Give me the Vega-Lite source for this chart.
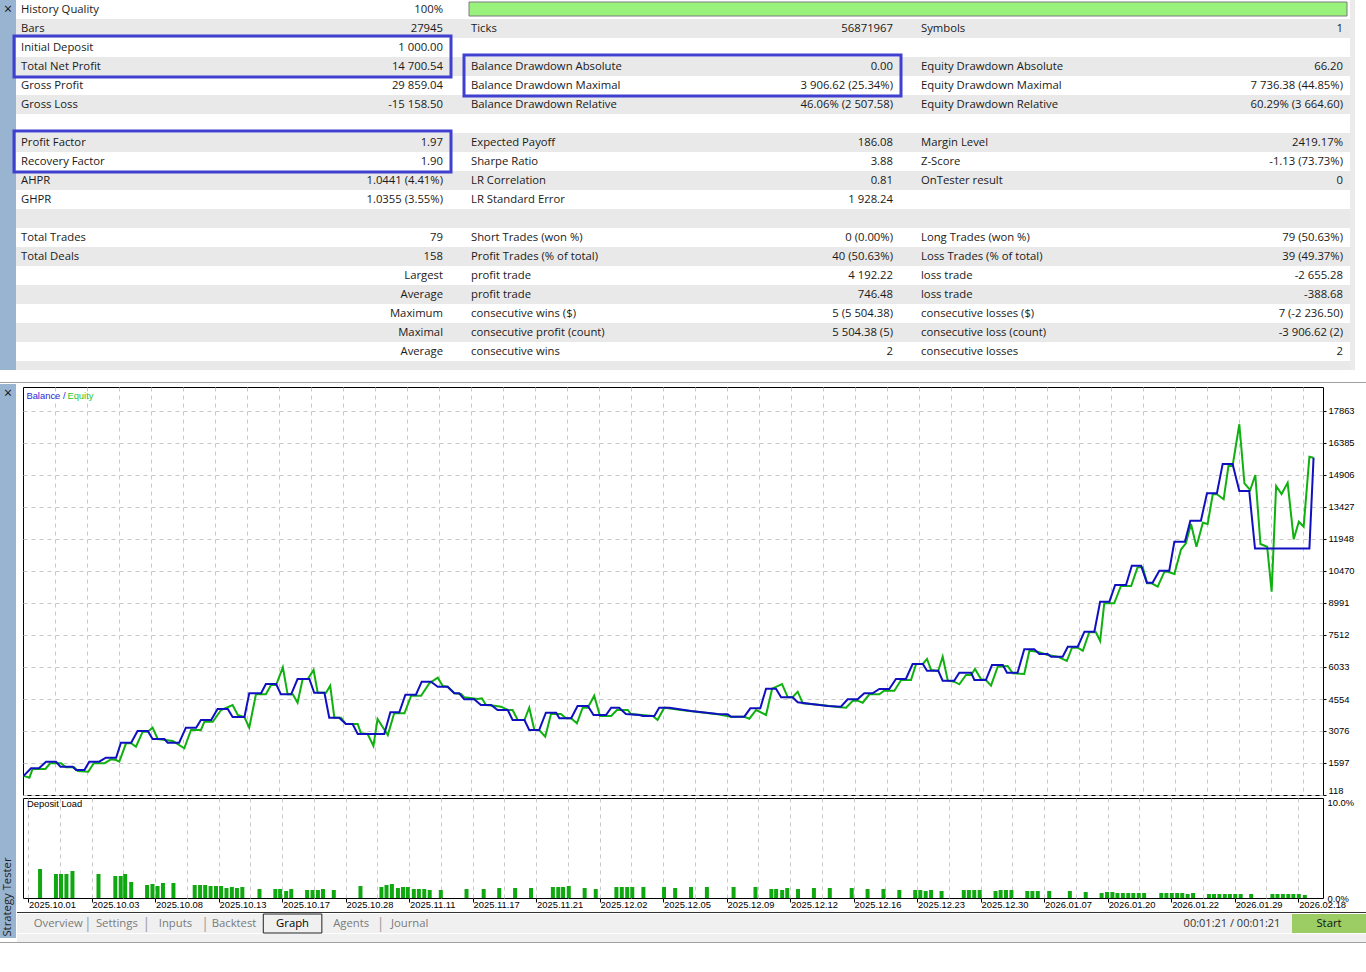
{
  "$schema": "https://vega.github.io/schema/vega-lite/v6.json",
  "padding": 0,
  "background": "#ffffff",
  "spacing": 0,
  "resolve": {"scale": {"color": "independent"}, "legend": {"color": "independent"}},
  "config": {
    "view": {"stroke": null},
    "text": {"font": "Open Sans", "fontSize": 11.3, "color": "#1a1a1a"},
    "axis": {"labelFont": "Liberation Sans", "labelFontSize": 9.4, "labelColor": "#000000"}
  },
  "datasets": {
    "stats": [
      {"row": 0, "c": 0, "k": "History Quality", "v": "100%"},
      {"row": 1, "c": 0, "k": "Bars", "v": "27945"},
      {"row": 1, "c": 1, "k": "Ticks", "v": "56871967"},
      {"row": 1, "c": 2, "k": "Symbols", "v": "1"},
      {"row": 2, "c": 0, "k": "Initial Deposit", "v": "1 000.00"},
      {"row": 3, "c": 0, "k": "Total Net Profit", "v": "14 700.54"},
      {"row": 3, "c": 1, "k": "Balance Drawdown Absolute", "v": "0.00"},
      {"row": 3, "c": 2, "k": "Equity Drawdown Absolute", "v": "66.20"},
      {"row": 4, "c": 0, "k": "Gross Profit", "v": "29 859.04"},
      {"row": 4, "c": 1, "k": "Balance Drawdown Maximal", "v": "3 906.62 (25.34%)"},
      {"row": 4, "c": 2, "k": "Equity Drawdown Maximal", "v": "7 736.38 (44.85%)"},
      {"row": 5, "c": 0, "k": "Gross Loss", "v": "-15 158.50"},
      {"row": 5, "c": 1, "k": "Balance Drawdown Relative", "v": "46.06% (2 507.58)"},
      {"row": 5, "c": 2, "k": "Equity Drawdown Relative", "v": "60.29% (3 664.60)"},
      {"row": 7, "c": 0, "k": "Profit Factor", "v": "1.97"},
      {"row": 7, "c": 1, "k": "Expected Payoff", "v": "186.08"},
      {"row": 7, "c": 2, "k": "Margin Level", "v": "2419.17%"},
      {"row": 8, "c": 0, "k": "Recovery Factor", "v": "1.90"},
      {"row": 8, "c": 1, "k": "Sharpe Ratio", "v": "3.88"},
      {"row": 8, "c": 2, "k": "Z-Score", "v": "-1.13 (73.73%)"},
      {"row": 9, "c": 0, "k": "AHPR", "v": "1.0441 (4.41%)"},
      {"row": 9, "c": 1, "k": "LR Correlation", "v": "0.81"},
      {"row": 9, "c": 2, "k": "OnTester result", "v": "0"},
      {"row": 10, "c": 0, "k": "GHPR", "v": "1.0355 (3.55%)"},
      {"row": 10, "c": 1, "k": "LR Standard Error", "v": "1 928.24"},
      {"row": 12, "c": 0, "k": "Total Trades", "v": "79"},
      {"row": 12, "c": 1, "k": "Short Trades (won %)", "v": "0 (0.00%)"},
      {"row": 12, "c": 2, "k": "Long Trades (won %)", "v": "79 (50.63%)"},
      {"row": 13, "c": 0, "k": "Total Deals", "v": "158"},
      {"row": 13, "c": 1, "k": "Profit Trades (% of total)", "v": "40 (50.63%)"},
      {"row": 13, "c": 2, "k": "Loss Trades (% of total)", "v": "39 (49.37%)"},
      {"row": 14, "c": 0, "k": "", "v": "Largest"},
      {"row": 14, "c": 1, "k": "profit trade", "v": "4 192.22"},
      {"row": 14, "c": 2, "k": "loss trade", "v": "-2 655.28"},
      {"row": 15, "c": 0, "k": "", "v": "Average"},
      {"row": 15, "c": 1, "k": "profit trade", "v": "746.48"},
      {"row": 15, "c": 2, "k": "loss trade", "v": "-388.68"},
      {"row": 16, "c": 0, "k": "", "v": "Maximum"},
      {"row": 16, "c": 1, "k": "consecutive wins ($)", "v": "5 (5 504.38)"},
      {"row": 16, "c": 2, "k": "consecutive losses ($)", "v": "7 (-2 236.50)"},
      {"row": 17, "c": 0, "k": "", "v": "Maximal"},
      {"row": 17, "c": 1, "k": "consecutive profit (count)", "v": "5 504.38 (5)"},
      {"row": 17, "c": 2, "k": "consecutive loss (count)", "v": "-3 906.62 (2)"},
      {"row": 18, "c": 0, "k": "", "v": "Average"},
      {"row": 18, "c": 1, "k": "consecutive wins", "v": "2"},
      {"row": 18, "c": 2, "k": "consecutive losses", "v": "2"}
    ],
    "stripes": [{"row": 1}, {"row": 3}, {"row": 5}, {"row": 7}, {"row": 9}, {"row": 11}, {"row": 13}, {"row": 15}, {"row": 17}, {"row": 19}],
    "quality": [{"c0": 1, "c1": 3, "r0": 0, "r1": 1, "pct": 100}],
    "highlights": [
      {"c0": 0, "c1": 1, "r0": 2, "r1": 4},
      {"c0": 0, "c1": 1, "r0": 7, "r1": 9},
      {"c0": 1, "c1": 2, "r0": 3, "r1": 5}
    ],
    "balance": [
      {"t":0.02,"v":1000},{"t":0.25,"v":1352},{"t":0.5,"v":1352},{"t":0.72,"v":1657},{"t":1.03,"v":1657},{"t":1.17,"v":1426},{"t":1.55,"v":1426},{"t":1.66,"v":1273},{"t":1.92,"v":1273},{"t":2.07,"v":1657},{"t":2.38,"v":1657},{"t":2.59,"v":1842},{"t":2.91,"v":1842},{"t":3.06,"v":2535},{"t":3.38,"v":2535},{"t":3.58,"v":3076},{"t":3.9,"v":3076},{"t":4.05,"v":2706},{"t":4.42,"v":2706},{"t":4.52,"v":2535},{"t":4.88,"v":2535},{"t":5.09,"v":3228},{"t":5.41,"v":3228},{"t":5.56,"v":3584},{"t":5.88,"v":3584},{"t":6.08,"v":4092},{"t":6.4,"v":4092},{"t":6.55,"v":3722},{"t":6.92,"v":3722},{"t":7.07,"v":4818},{"t":7.44,"v":4818},{"t":7.59,"v":5247},{"t":7.91,"v":5247},{"t":8.06,"v":4771},{"t":8.38,"v":4771},{"t":8.58,"v":5478},{"t":8.95,"v":5478},{"t":9.1,"v":4845},{"t":9.42,"v":4845},{"t":9.57,"v":3690},{"t":9.88,"v":3690},{"t":10.09,"v":3399},{"t":10.3,"v":3399},{"t":10.46,"v":2937},{"t":11.29,"v":2937},{"t":11.48,"v":3940},{"t":11.76,"v":3940},{"t":11.95,"v":4753},{"t":12.28,"v":4753},{"t":12.46,"v":5354},{"t":12.75,"v":5354},{"t":12.96,"v":5123},{"t":13.27,"v":5123},{"t":13.48,"v":4818},{"t":13.63,"v":4818},{"t":13.79,"v":4540},{"t":14.1,"v":4540},{"t":14.31,"v":4277},{"t":14.63,"v":4277},{"t":14.83,"v":4046},{"t":15.15,"v":4046},{"t":15.3,"v":3584},{"t":15.67,"v":3584},{"t":15.82,"v":3122},{"t":16.13,"v":3122},{"t":16.34,"v":3921},{"t":16.66,"v":3921},{"t":16.76,"v":3662},{"t":17.13,"v":3662},{"t":17.33,"v":4231},{"t":17.65,"v":4231},{"t":17.83,"v":3815},{"t":18.22,"v":3815},{"t":18.38,"v":4152},{"t":18.63,"v":4152},{"t":18.84,"v":3861},{"t":19.26,"v":3815},{"t":19.37,"v":3769},{"t":19.73,"v":3769},{"t":19.88,"v":4152},{"t":20.2,"v":4152},{"t":20.88,"v":4000},{"t":21.71,"v":3861},{"t":22.02,"v":3847},{"t":22.13,"v":3736},{"t":22.54,"v":3736},{"t":22.73,"v":4124},{"t":23.04,"v":4124},{"t":23.22,"v":5030},{"t":23.53,"v":5030},{"t":23.69,"v":4633},{"t":24.05,"v":4633},{"t":24.21,"v":4402},{"t":24.63,"v":4323},{"t":25.15,"v":4231},{"t":25.56,"v":4198},{"t":25.77,"v":4540},{"t":26.08,"v":4540},{"t":26.29,"v":4818},{"t":26.55,"v":4818},{"t":26.76,"v":5016},{"t":27.07,"v":5016},{"t":27.28,"v":5478},{"t":27.59,"v":5478},{"t":27.8,"v":6172},{"t":28.12,"v":6172},{"t":28.25,"v":5862},{"t":28.6,"v":5862},{"t":28.74,"v":5400},{"t":29.1,"v":5400},{"t":29.26,"v":5770},{"t":29.63,"v":5770},{"t":29.73,"v":5432},{"t":30.09,"v":5432},{"t":30.28,"v":6125},{"t":30.62,"v":6125},{"t":30.75,"v":5770},{"t":31.08,"v":5770},{"t":31.29,"v":6851},{"t":31.6,"v":6851},{"t":31.76,"v":6634},{"t":32.02,"v":6634},{"t":32.13,"v":6509},{"t":32.49,"v":6509},{"t":32.65,"v":6971},{"t":32.96,"v":6971},{"t":33.17,"v":7664},{"t":33.48,"v":7664},{"t":33.66,"v":9051},{"t":33.95,"v":9051},{"t":34.13,"v":9822},{"t":34.47,"v":9822},{"t":34.65,"v":10714},{"t":34.94,"v":10714},{"t":35.12,"v":9929},{"t":35.3,"v":9929},{"t":35.51,"v":10483},{"t":35.82,"v":10483},{"t":35.98,"v":11823},{"t":36.31,"v":11823},{"t":36.48,"v":12794},{"t":36.81,"v":12794},{"t":37.0,"v":14060},{"t":37.31,"v":14060},{"t":37.49,"v":15417},{"t":37.8,"v":15417},{"t":38.01,"v":14165},{"t":38.32,"v":14165},{"t":38.5,"v":11510},{"t":40.2,"v":11510},{"t":40.33,"v":15701}
    ],
    "equity": [
      {"t":0.02,"v":1000},{"t":0.2,"v":917},{"t":0.3,"v":1319},{"t":0.7,"v":1319},{"t":0.85,"v":1583},{"t":1.19,"v":1583},{"t":1.34,"v":1398},{"t":1.6,"v":1398},{"t":1.71,"v":1227},{"t":2.04,"v":1195},{"t":2.21,"v":1583},{"t":2.54,"v":1583},{"t":2.75,"v":1768},{"t":2.91,"v":1735},{"t":3.01,"v":1657},{"t":3.22,"v":2507},{"t":3.38,"v":2507},{"t":3.53,"v":2350},{"t":3.74,"v":3043},{"t":3.9,"v":3043},{"t":4.05,"v":3228},{"t":4.21,"v":2706},{"t":4.68,"v":2613},{"t":5.04,"v":2276},{"t":5.25,"v":3122},{"t":5.56,"v":3122},{"t":5.67,"v":3505},{"t":5.93,"v":3505},{"t":6.19,"v":4046},{"t":6.55,"v":4277},{"t":6.71,"v":3815},{"t":6.92,"v":3722},{"t":7.07,"v":3228},{"t":7.28,"v":4771},{"t":7.59,"v":4771},{"t":7.75,"v":5201},{"t":7.91,"v":5201},{"t":8.12,"v":6019},{"t":8.27,"v":4771},{"t":8.43,"v":4771},{"t":8.58,"v":4383},{"t":8.74,"v":5478},{"t":8.9,"v":5478},{"t":9.08,"v":5894},{"t":9.21,"v":4845},{"t":9.47,"v":4845},{"t":9.6,"v":5169},{"t":9.73,"v":3690},{"t":9.94,"v":3690},{"t":10.09,"v":3399},{"t":10.46,"v":3399},{"t":10.56,"v":2969},{"t":10.77,"v":2937},{"t":10.95,"v":2382},{"t":11.08,"v":3630},{"t":11.4,"v":2891},{"t":11.6,"v":3893},{"t":11.92,"v":3893},{"t":12.13,"v":4707},{"t":12.44,"v":4707},{"t":12.7,"v":5280},{"t":12.96,"v":5539},{"t":13.12,"v":5155},{"t":13.27,"v":5123},{"t":13.48,"v":4818},{"t":13.69,"v":4785},{"t":13.79,"v":4633},{"t":14.21,"v":4554},{"t":14.34,"v":4587},{"t":14.47,"v":4277},{"t":14.73,"v":4245},{"t":14.94,"v":4198},{"t":15.15,"v":4046},{"t":15.3,"v":4046},{"t":15.46,"v":3584},{"t":15.67,"v":3584},{"t":15.82,"v":4152},{"t":15.98,"v":3122},{"t":16.13,"v":3122},{"t":16.32,"v":2812},{"t":16.5,"v":3861},{"t":16.81,"v":3861},{"t":16.97,"v":3662},{"t":17.13,"v":3662},{"t":17.31,"v":3431},{"t":17.49,"v":4152},{"t":17.65,"v":4152},{"t":17.85,"v":4707},{"t":18.03,"v":3769},{"t":18.38,"v":3769},{"t":18.56,"v":4046},{"t":18.9,"v":4046},{"t":19.0,"v":3861},{"t":19.68,"v":3769},{"t":19.83,"v":3584},{"t":20.04,"v":4152},{"t":20.56,"v":4046},{"t":21.71,"v":3847},{"t":22.13,"v":3736},{"t":22.54,"v":3736},{"t":22.7,"v":3644},{"t":22.91,"v":4046},{"t":23.22,"v":3815},{"t":23.41,"v":5030},{"t":23.72,"v":5247},{"t":23.9,"v":4633},{"t":24.05,"v":4633},{"t":24.21,"v":4892},{"t":24.37,"v":4356},{"t":24.94,"v":4277},{"t":25.46,"v":4185},{"t":25.72,"v":4152},{"t":25.93,"v":4476},{"t":26.08,"v":4476},{"t":26.24,"v":4383},{"t":26.45,"v":4771},{"t":26.76,"v":4771},{"t":26.91,"v":4938},{"t":27.23,"v":4938},{"t":27.44,"v":5432},{"t":27.75,"v":5432},{"t":27.91,"v":6172},{"t":28.12,"v":6172},{"t":28.25,"v":6403},{"t":28.38,"v":5894},{"t":28.6,"v":5848},{"t":28.74,"v":6509},{"t":28.9,"v":5400},{"t":29.1,"v":5354},{"t":29.26,"v":5234},{"t":29.47,"v":5663},{"t":29.63,"v":5663},{"t":29.75,"v":5941},{"t":29.94,"v":5465},{"t":30.09,"v":5432},{"t":30.25,"v":5169},{"t":30.46,"v":6047},{"t":30.77,"v":6079},{"t":30.93,"v":5742},{"t":31.29,"v":5710},{"t":31.45,"v":6786},{"t":31.71,"v":6740},{"t":32.02,"v":6588},{"t":32.33,"v":6509},{"t":32.62,"v":6310},{"t":32.78,"v":6925},{"t":32.96,"v":6925},{"t":33.12,"v":6786},{"t":33.32,"v":7637},{"t":33.53,"v":7637},{"t":33.66,"v":7234},{"t":33.79,"v":8977},{"t":34.1,"v":8977},{"t":34.31,"v":9776},{"t":34.63,"v":9776},{"t":34.83,"v":10640},{"t":34.99,"v":10640},{"t":35.13,"v":9901},{"t":35.27,"v":9901},{"t":35.46,"v":9744},{"t":35.67,"v":10437},{"t":35.77,"v":10437},{"t":35.98,"v":10331},{"t":36.19,"v":11472},{"t":36.34,"v":11749},{"t":36.5,"v":12641},{"t":36.67,"v":11592},{"t":36.87,"v":12701},{"t":37.02,"v":12641},{"t":37.18,"v":14014},{"t":37.31,"v":14014},{"t":37.52,"v":13783},{"t":37.67,"v":15321},{"t":37.8,"v":15321},{"t":38.01,"v":17250},{"t":38.17,"v":14522},{"t":38.35,"v":14212},{"t":38.51,"v":14906},{"t":38.67,"v":11717},{"t":38.88,"v":11592},{"t":39.02,"v":9514},{"t":39.16,"v":14397},{"t":39.33,"v":14028},{"t":39.52,"v":14550},{"t":39.71,"v":11934},{"t":39.87,"v":12747},{"t":40.02,"v":12516},{"t":40.2,"v":15751},{"t":40.33,"v":15701}
    ],
    "load": [
      {"t":0.38,"load":2.9},{"t":0.88,"load":2.4},{"t":1.04,"load":2.4},{"t":1.21,"load":2.4},{"t":1.4,"load":2.7},{"t":2.22,"load":2.4},{"t":2.75,"load":2.2},{"t":2.92,"load":2.2},{"t":3.06,"load":2.4},{"t":3.25,"load":1.6},{"t":3.75,"load":1.3},{"t":3.92,"load":1.4},{"t":4.08,"load":1.2},{"t":4.25,"load":1.5},{"t":4.58,"load":1.5},{"t":5.25,"load":1.3},{"t":5.42,"load":1.3},{"t":5.58,"load":1.3},{"t":5.75,"load":1.2},{"t":5.92,"load":1.2},{"t":6.08,"load":1.2},{"t":6.25,"load":1.0},{"t":6.42,"load":1.1},{"t":6.58,"load":1.0},{"t":6.75,"load":1.1},{"t":7.29,"load":0.9},{"t":7.79,"load":0.9},{"t":7.94,"load":0.9},{"t":8.13,"load":0.7},{"t":8.29,"load":0.9},{"t":8.79,"load":0.8},{"t":8.96,"load":0.8},{"t":9.13,"load":0.8},{"t":9.29,"load":0.9},{"t":9.63,"load":0.8},{"t":10.47,"load":1.2},{"t":11.13,"load":1.1},{"t":11.29,"load":1.3},{"t":11.46,"load":1.4},{"t":11.65,"load":1.0},{"t":11.81,"load":1.1},{"t":11.96,"load":1.1},{"t":12.15,"load":0.9},{"t":12.31,"load":0.9},{"t":12.48,"load":0.9},{"t":12.65,"load":0.8},{"t":13.0,"load":0.8},
      {"t":13.81,"load":0.9},{"t":14.35,"load":0.9},{"t":14.84,"load":1.0},{"t":15.34,"load":1.0},{"t":15.84,"load":1.0},{"t":16.53,"load":1.1},{"t":16.7,"load":1.1},{"t":16.85,"load":1.1},{"t":17.03,"load":1.2},{"t":17.53,"load":1.0},{"t":17.88,"load":0.9},{"t":18.53,"load":1.1},{"t":18.7,"load":1.1},{"t":18.87,"load":1.1},{"t":19.03,"load":1.1},{"t":19.38,"load":1.1},{"t":20.03,"load":1.1},{"t":20.38,"load":1.0},{"t":20.88,"load":1.1},{"t":21.38,"load":1.1},{"t":22.22,"load":1.1},{"t":22.91,"load":1.1},{"t":23.41,"load":0.9},{"t":23.56,"load":0.9},{"t":23.75,"load":0.8},{"t":23.91,"load":1.0},{"t":24.25,"load":0.9},{"t":24.75,"load":1.0},{"t":25.25,"load":1.0},{"t":25.94,"load":1.0},{"t":26.44,"load":0.9},{"t":26.94,"load":0.9},{"t":27.44,"load":0.8},
      {"t":27.94,"load":0.8},{"t":28.1,"load":0.8},{"t":28.27,"load":0.7},{"t":28.44,"load":0.8},{"t":28.77,"load":0.7},{"t":29.47,"load":0.8},{"t":29.63,"load":0.8},{"t":29.8,"load":0.8},{"t":29.97,"load":0.8},{"t":30.47,"load":0.7},{"t":30.63,"load":0.8},{"t":30.8,"load":0.8},{"t":30.97,"load":0.8},{"t":31.47,"load":0.7},{"t":31.63,"load":0.7},{"t":31.8,"load":0.7},{"t":32.16,"load":0.7},{"t":32.81,"load":0.7},{"t":33.31,"load":0.6},{"t":33.81,"load":0.5},{"t":33.98,"load":0.6},{"t":34.15,"load":0.6},{"t":34.31,"load":0.5},{"t":34.48,"load":0.5},{"t":34.65,"load":0.5},{"t":34.81,"load":0.5},{"t":34.98,"load":0.5},{"t":35.15,"load":0.5},{"t":35.69,"load":0.5},{"t":35.85,"load":0.5},{"t":36.02,"load":0.5},{"t":36.19,"load":0.5},{"t":36.35,"load":0.5},{"t":36.52,"load":0.4},{"t":36.69,"load":0.5},{"t":37.19,"load":0.4},{"t":37.35,"load":0.4},{"t":37.52,"load":0.4},{"t":37.69,"load":0.4},{"t":37.85,"load":0.4},{"t":38.02,"load":0.4},{"t":38.19,"load":0.4},{"t":38.52,"load":0.4},{"t":39.19,"load":0.4},{"t":39.35,"load":0.4},{"t":39.52,"load":0.4},{"t":39.69,"load":0.4},{"t":39.85,"load":0.4},{"t":40.02,"load":0.4},{"t":40.21,"load":0.3}
    ],
    "dates": [
      {"t":0,"date":"2025.10.01"},{"t":2,"date":"2025.10.03"},{"t":4,"date":"2025.10.08"},{"t":6,"date":"2025.10.13"},{"t":8,"date":"2025.10.17"},{"t":10,"date":"2025.10.28"},{"t":12,"date":"2025.11.11"},{"t":14,"date":"2025.11.17"},{"t":16,"date":"2025.11.21"},{"t":18,"date":"2025.12.02"},{"t":20,"date":"2025.12.05"},{"t":22,"date":"2025.12.09"},{"t":24,"date":"2025.12.12"},{"t":26,"date":"2025.12.16"},{"t":28,"date":"2025.12.23"},{"t":30,"date":"2025.12.30"},{"t":32,"date":"2026.01.07"},{"t":34,"date":"2026.01.20"},{"t":36,"date":"2026.01.22"},{"t":38,"date":"2026.01.29"},{"t":40,"date":"2026.02.18"}
    ],
    "tabs": [{"tab":"Overview"},{"tab":"Settings"},{"tab":"Inputs"},{"tab":"Backtest"},{"tab":"Graph"},{"tab":"Agents"},{"tab":"Journal"}]
  },
  "vconcat": [
    {
      "spacing": 0, "bounds": "flush",
      "hconcat": [
        {"width": 16, "height": 370, "view": {"fill": "#99b4d1"}, "data": {"values": [{"s": "×"}]},
         "mark": {"type": "text", "fontSize": 14, "color": "#111111"},
         "encoding": {"y": {"field": "s", "type": "nominal", "scale": {"range": [0, 19]}, "axis": null}, "text": {"field": "s"}}},
        {
          "width": 1334, "height": 370,
          "layer": [
            {
              "layer": [
                {"data": {"name": "stripes"}, "mark": {"type": "rect", "color": "#e9e9e9", "clip": true},
                 "encoding": {"y": {"field": "row", "type": "ordinal", "scale": {"domain": [0,1,2,3,4,5,6,7,8,9,10,11,12,13,14,15,16,17,18,19], "range": [0, 380], "paddingInner": 0, "paddingOuter": 0}, "axis": null}}},
                {"data": {"name": "stats"}, "mark": {"type": "text", "align": "left", "baseline": "middle", "dx": -220},
                 "encoding": {
                   "x": {"field": "c", "type": "ordinal", "scale": {"domain": [0, 1, 2], "range": [0, 1350], "paddingInner": 0, "paddingOuter": 0}, "axis": null},
                   "y": {"field": "row", "type": "ordinal"},
                   "text": {"field": "k"}}},
                {"data": {"name": "stats"}, "mark": {"type": "text", "align": "right", "baseline": "middle", "dx": 202},
                 "encoding": {
                   "x": {"field": "c", "type": "ordinal"},
                   "y": {"field": "row", "type": "ordinal"},
                   "text": {"field": "v"}}}
              ]
            },
            {
              "layer": [
                {"data": {"name": "quality"}, "mark": {"type": "rect", "fill": "#98f27c", "stroke": "#7a7a7a", "strokeWidth": 1, "xOffset": 3, "x2Offset": -19, "yOffset": 2, "y2Offset": -3},
                 "encoding": {
                   "x": {"field": "c0", "type": "quantitative", "scale": {"domain": [0, 3], "range": [0, 1350], "nice": false, "zero": false}, "axis": null},
                   "x2": {"field": "c1"},
                   "y": {"field": "r0", "type": "quantitative", "scale": {"domain": [0, 20], "range": [0, 380], "nice": false, "zero": false}, "axis": null},
                   "y2": {"field": "r1"}}},
                {"data": {"name": "highlights"}, "mark": {"type": "rect", "filled": false, "color": "#4040d0", "strokeWidth": 3, "xOffset": -2, "x2Offset": -15, "yOffset": -2, "y2Offset": 1},
                 "encoding": {
                   "x": {"field": "c0", "type": "quantitative"},
                   "x2": {"field": "c1"},
                   "y": {"field": "r0", "type": "quantitative"},
                   "y2": {"field": "r1"}}}
              ]
            }
          ],
          "resolve": {"scale": {"x": "independent", "y": "independent"}}
        },
        {"width": 5, "height": 370, "view": {"fill": "#ebebeb"}, "data": {"values": []}, "mark": "rect"},
        {"width": 11, "height": 370, "data": {"values": []}, "mark": "rect"}
      ]
    },
    {"width": 1366, "height": 12, "data": {"values": []}, "mark": "rect"},
    {"width": 1366, "height": 1, "view": {"fill": "#a0a0a0"}, "data": {"values": []}, "mark": "rect"},
    {"width": 1366, "height": 1, "data": {"values": []}, "mark": "rect"},
    {
      "spacing": 0,
      "resolve": {"scale": {"color": "independent"}, "legend": {"color": "independent"}},
      "hconcat": [
        {
          "width": 16, "height": 554, "view": {"fill": "#99b4d1"},
          "layer": [
            {"data": {"values": [{"s": "×"}]}, "mark": {"type": "text", "fontSize": 14, "color": "#111111"},
             "encoding": {"y": {"field": "s", "type": "nominal", "scale": {"range": [0, 20]}, "axis": null}, "text": {"field": "s"}}},
            {"data": {"values": [{"s": "Strategy Tester"}]}, "mark": {"type": "text", "angle": 270, "color": "#222222"},
             "encoding": {"y": {"field": "s", "type": "nominal", "scale": {"range": [472, 554]}, "axis": null}, "text": {"field": "s"}}}
          ],
          "resolve": {"scale": {"y": "independent"}}
        },
        {
          "spacing": 0,
          "resolve": {"scale": {"color": "independent"}, "legend": {"color": "independent"}},
          "vconcat": [
            {"width": 1350, "height": 2, "data": {"values": []}, "mark": "rect"},
            {
              "spacing": 0, "bounds": "flush",
              "resolve": {"scale": {"color": "independent"}, "legend": {"color": "independent"}},
              "hconcat": [
                {"width": 6, "height": 408, "data": {"values": []}, "mark": "rect"},
                {
                  "width": 1300, "height": 408,
                  "view": {"stroke": "#000000", "strokeWidth": 1},
                  "layer": [
                    {"data": {"name": "equity"}, "mark": {"type": "line", "strokeWidth": 2},
                     "encoding": {
                       "x": {"field": "t", "type": "quantitative", "scale": {"domain": [0, 40.625], "nice": false, "zero": false},
                             "axis": {"values": [1,2,3,4,5,6,7,8,9,10,11,12,13,14,15,16,17,18,19,20,21,22,23,24,25,26,27,28,29,30,31,32,33,34,35,36,37,38,39,40], "tickCount": 200, "grid": true, "gridDash": [4, 4], "gridColor": "#c8c8c8", "labels": false, "ticks": false, "domain": false, "title": null}},
                       "y": {"field": "v", "type": "quantitative", "scale": {"domain": [118, 18972], "nice": false, "zero": false},
                             "axis": {"orient": "right", "values": [118,1597,3076,4554,6033,7512,8991,10470,11948,13427,14906,16385,17863], "tickCount": 200, "format": "d", "grid": true, "gridDash": [4, 4], "gridColor": "#c8c8c8", "domain": false, "tickSize": 3, "tickColor": "#000000", "labelPadding": 2, "labelOverlap": false, "labelBound": false, "title": null,
                                      "labelBaseline": {"condition": {"test": "datum.value < 1000", "value": "bottom"}, "value": "middle"}}},
                       "color": {"datum": "Equity", "type": "nominal",
                                 "scale": {"domain": ["Balance", "Equity"], "range": ["#1010c0", "#10b010"]},
                                 "legend": {"orient": "none", "legendX": -6, "legendY": 4, "direction": "horizontal", "title": null, "padding": 0, "symbolSize": 1, "symbolStrokeWidth": 0, "symbolOpacity": 0, "labelOffset": 0, "columnPadding": -8, "gridAlign": "none", "labelFont": "Liberation Sans", "labelFontSize": 9.4,
                                            "labelExpr": "datum.label == 'Balance' ? 'Balance /' : datum.label",
                                            "encode": {"labels": {"update": {"fill": [{"test": "datum.value == 'Balance'", "value": "#2a2ad0"}, {"value": "#2cc82c"}]}}}}}
                     }},
                    {"data": {"name": "balance"}, "mark": {"type": "line", "strokeWidth": 2},
                     "encoding": {
                       "x": {"field": "t", "type": "quantitative"},
                       "y": {"field": "v", "type": "quantitative"},
                       "color": {"datum": "Balance", "type": "nominal"}}}
                  ]
                }
              ]
            },
            {
              "spacing": 0, "bounds": "flush",
              "hconcat": [
                {"width": 6, "height": 100, "data": {"values": []}, "mark": "rect"},
                {
                  "width": 1300, "height": 100,
                  "view": {"stroke": "#000000", "strokeWidth": 1},
                  "title": {"text": "Deposit Load", "anchor": "start", "frame": "group", "offset": -12, "dx": 4, "font": "Liberation Sans", "fontSize": 9.4, "fontWeight": "normal", "color": "#000000"},
                  "layer": [
                    {"data": {"name": "load"}, "mark": {"type": "bar", "orient": "vertical", "size": 4, "color": "#10a810"},
                     "encoding": {
                       "x": {"field": "t", "type": "quantitative", "scale": {"domain": [0, 40.625], "nice": false, "zero": false},
                             "axis": {"values": [0,1,2,3,4,5,6,7,8,9,10,11,12,13,14,15,16,17,18,19,20,21,22,23,24,25,26,27,28,29,30,31,32,33,34,35,36,37,38,39,40], "tickCount": 200, "grid": true, "gridDash": [4, 4], "gridColor": "#c8c8c8", "labels": false, "domain": false, "tickSize": 4, "tickColor": "#000000",
                                      "tickOpacity": {"condition": {"test": "datum.value % 2 == 0", "value": 1}, "value": 0}, "title": null}},
                       "y": {"field": "load", "type": "quantitative", "scale": {"domain": [0, 10], "nice": false},
                             "axis": {"orient": "right", "values": [0, 10], "labelExpr": "format(datum.value, '.1f') + '%'", "grid": false, "domain": false, "ticks": false, "labelPadding": 4, "labelFlush": false,
                                      "labelBaseline": {"condition": {"test": "datum.value > 5", "value": "top"}, "value": "middle"}, "title": null}}}},
                    {"data": {"name": "dates"}, "mark": {"type": "text", "align": "left", "baseline": "top", "dx": 1, "dy": 3, "font": "Liberation Sans", "fontSize": 9.4, "color": "#000000"},
                     "encoding": {
                       "x": {"field": "t", "type": "quantitative"},
                       "y": {"datum": 0},
                       "text": {"field": "date"}}}
                  ]
                }
              ]
            },
            {"width": 1350, "height": 2, "data": {"values": []}, "mark": "rect"},
            {"width": 1350, "height": 1, "view": {"fill": "#333333"}, "data": {"values": []}, "mark": "rect"},
            {
              "spacing": 0, "bounds": "flush",
              "hconcat": [
                {"width": 12, "height": 19, "view": {"fill": "#f0f0f0"}, "data": {"values": []}, "mark": "rect"},
                {
                  "width": 410, "height": 19, "view": {"fill": "#f0f0f0"},
                  "data": {"name": "tabs"},
                  "layer": [
                    {"transform": [{"filter": "datum.tab == 'Graph'"}],
                     "mark": {"type": "rect", "fill": "#f0f0f0", "stroke": "#222222", "strokeWidth": 1},
                     "encoding": {"x": {"field": "tab", "type": "nominal", "scale": {"domain": ["Overview", "Settings", "Inputs", "Backtest", "Graph", "Agents", "Journal"], "paddingInner": 0, "paddingOuter": 0}, "axis": null}}},
                    {"mark": {"type": "text", "baseline": "middle"},
                     "encoding": {
                       "x": {"field": "tab", "type": "nominal"},
                       "text": {"field": "tab"},
                       "color": {"condition": {"test": "datum.tab == 'Graph'", "value": "#000000"}, "value": "#7a7a7a"}}},
                    {"transform": [{"filter": "datum.tab == 'Settings' || datum.tab == 'Inputs' || datum.tab == 'Backtest' || datum.tab == 'Journal'"}],
                     "mark": {"type": "text", "baseline": "middle", "fontSize": 14, "color": "#9a9a9a", "dx": -29},
                     "encoding": {
                       "x": {"field": "tab", "type": "nominal"},
                       "text": {"value": "|"}}}
                  ]
                },
                {"width": 743, "height": 19, "view": {"fill": "#f0f0f0"}, "data": {"values": []}, "mark": "rect"},
                {"width": 100, "height": 19, "view": {"fill": "#f0f0f0"}, "data": {"values": [{"s": "00:01:21 / 00:01:21"}]}, "mark": {"type": "text", "fontSize": 11, "color": "#333333"}, "encoding": {"text": {"field": "s"}}},
                {"width": 10, "height": 19, "view": {"fill": "#f0f0f0"}, "data": {"values": []}, "mark": "rect"},
                {"width": 74, "height": 19, "view": {"fill": "#9bcd64"}, "data": {"values": [{"s": "Start"}]}, "mark": {"type": "text", "color": "#111111"}, "encoding": {"text": {"field": "s"}}},
                {"width": 1, "height": 19, "view": {"fill": "#f0f0f0"}, "data": {"values": []}, "mark": "rect"}
              ]
            },
            {"width": 1350, "height": 8, "view": {"fill": "#f0f0f0"}, "data": {"values": []}, "mark": "rect"}
          ]
        }
      ]
    },
    {"width": 1366, "height": 1, "view": {"fill": "#a0a0a0"}, "data": {"values": []}, "mark": "rect"}
  ]
}
